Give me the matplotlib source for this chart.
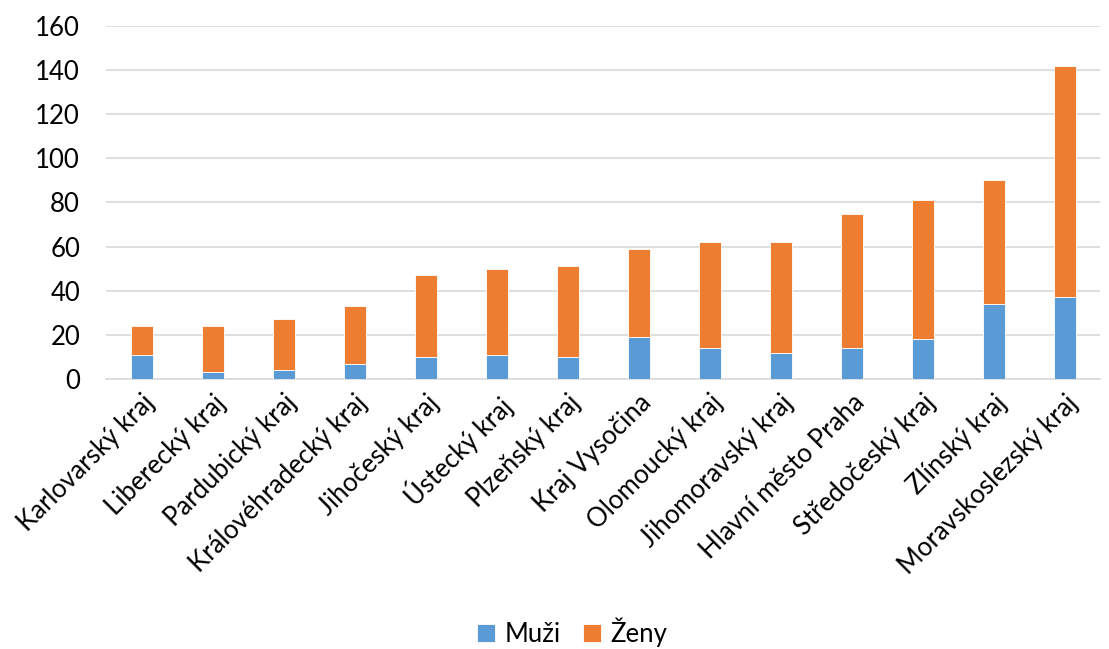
import matplotlib.pyplot as plt
import numpy as np

plt.rcParams['font.family'] = ['Lato', 'DejaVu Sans']

regions = ['Karlovarský kraj', 'Liberecký kraj', 'Pardubický kraj', 'Královéhradecký kraj',
           'Jihočeský kraj', 'Ústecký kraj', 'Plzeňský kraj', 'Kraj Vysočina',
           'Olomoucký kraj', 'Jihomoravský kraj', 'Hlavní město Praha',
           'Středočeský kraj', 'Zlínský kraj', 'Moravskoslezský kraj']
muzi = [11, 3, 4, 7, 10, 11, 10, 19, 14, 12, 14, 18, 34, 37]
celkem = [24, 24, 27, 33, 47, 50, 51, 59, 62, 62, 75, 81, 90, 142]
zeny = [c - m for c, m in zip(celkem, muzi)]

fig = plt.figure(figsize=(11.09, 6.49), dpi=100)
ax = fig.add_axes([0.096, 0.416, 0.896, 0.544])

x = np.arange(len(regions))
w = 0.31
ax.bar(x, muzi, w, color='#5b9bd5', edgecolor='white', linewidth=0.6, label='Muži', zorder=3)
ax.bar(x, zeny, w, bottom=muzi, color='#ed7d31', edgecolor='white', linewidth=0.6, label='Ženy', zorder=3)

ax.set_ylim(0, 160)
ax.set_yticks(range(0, 161, 20))
ax.set_xlim(-0.5, len(regions) - 0.5)
ax.yaxis.grid(True, color='#d9d9d9', linewidth=1.2, zorder=0)
for s in ['top', 'right', 'left']:
    ax.spines[s].set_visible(False)
ax.spines['bottom'].set_color('#d9d9d9')
ax.spines['bottom'].set_linewidth(1.2)
ax.tick_params(axis='both', length=0, labelsize=18.5, colors='black')
ax.tick_params(axis='y', pad=19)
ax.tick_params(axis='x', pad=8)
ax.set_xticks(x)
ax.set_xticklabels(regions, rotation=45, ha='right', rotation_mode='anchor')

fig.legend(loc='lower center', ncol=2, frameon=False, fontsize=18.5,
           bbox_to_anchor=(0.516, -0.032), handlelength=0.7, handleheight=0.7,
           handletextpad=0.35, columnspacing=0.9)

fig.savefig('out.png', dpi=100)
